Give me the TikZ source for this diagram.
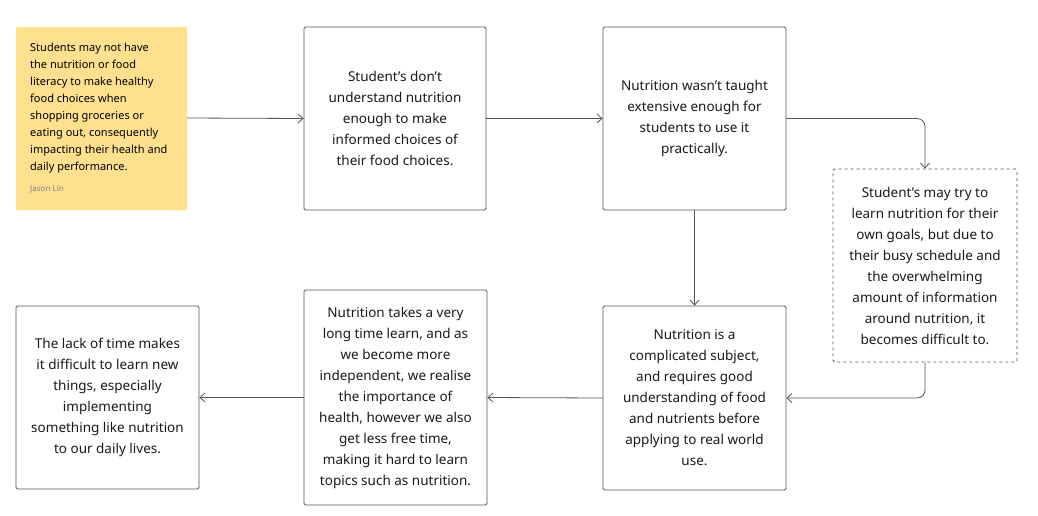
\documentclass[tikz,border=0pt]{standalone}
\usepackage{fontspec}
\setmainfont{Noto Sans}
\usetikzlibrary{arrows.meta}
\definecolor{edge}{HTML}{555555}
\definecolor{sticky}{HTML}{FFE08F}
\tikzset{
 card/.style={draw=edge,line width=0.8pt,rounded corners=1.5pt,align=center,font=\fontsize{13.5}{21}\selectfont,text=black!90,inner sep=0pt},
 conn/.style={draw=edge,line width=0.8pt,-{Straight Barb[length=5pt,width=9pt]},rounded corners=8pt}
}
\begin{document}
\begin{tikzpicture}[x=1pt,y=-1pt]
\useasboundingbox (0,0) rectangle (1038,515);
\fill[sticky,rounded corners=1pt] (16,27) rectangle (187,210);
\node (s) [anchor=north west,align=left,font=\fontsize{11}{17}\selectfont,inner sep=0pt] at (30,43) {Students may not have\\the nutrition or food\\literacy to make healthy\\food choices when\\shopping groceries or\\eating out, consequently\\impacting their health and\\daily performance.};
\node (sn) [anchor=north west,font=\fontsize{8}{10}\selectfont,text=black!50,inner sep=0pt] at (30,185) {Jason Lin};
\coordinate (sr) at (187,118);
\node (b1) [card,minimum width=182pt,minimum height=183pt] at (395,118.5) {Student’s don’t\\understand nutrition\\enough to make\\informed choices of\\their food choices.};
\node (b2) [card,minimum width=183pt,minimum height=183pt] at (694.5,118.5) {Nutrition wasn’t taught\\extensive enough for\\students to use it\\practically.};
\node (b3) [card,dashed,minimum width=184pt,minimum height=193pt] at (925,265.5) {Student’s may try to\\learn nutrition for their\\own goals, but due to\\their busy schedule and\\the overwhelming\\amount of information\\around nutrition, it\\becomes difficult to.};
\node (b4) [card,minimum width=183pt,minimum height=184pt] at (694.5,398) {Nutrition is a\\complicated subject,\\and requires good\\understanding of food\\and nutrients before\\applying to real world\\use.};
\node (b5) [card,minimum width=183pt,minimum height=215pt] at (395.5,397.5) {Nutrition takes a very\\long time learn, and as\\we become more\\independent, we realise\\the importance of\\health, however we also\\get less free time,\\making it hard to learn\\topics such as nutrition.};
\node (b6) [card,minimum width=183pt,minimum height=183pt] at (107.5,397.5) {The lack of time makes\\it difficult to learn new\\things, especially\\implementing\\something like nutrition\\to our daily lives.};
\draw[conn] (sr) -- (b1.west);
\draw[conn] (b1.east) -- (b2.west);
\draw[conn] (b2.east) -| (b3.north);
\draw[conn] (b2.south) -- (b4.north);
\draw[conn] (b3.south) |- (b4.east);
\draw[conn] (b4.west) -- (b5.west -| b5.east);
\draw[conn] (b5.west) -- (b6.east);
\end{tikzpicture}
\end{document}
